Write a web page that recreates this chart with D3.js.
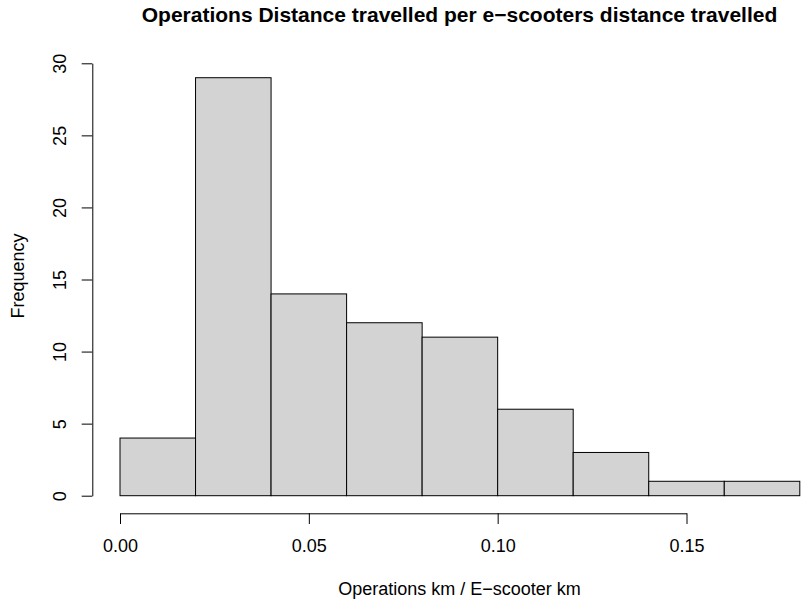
<!DOCTYPE html>
<html>
<head>
<meta charset="utf-8">
<script src="https://cdn.jsdelivr.net/npm/d3@7"></script>
<style>
  html, body { margin: 0; padding: 0; background: #fff; }
  svg { display: block; }
  text { font-family: "Liberation Sans", Arial, Helvetica, sans-serif; fill: #000; }
</style>
</head>
<body>
<svg id="chart" width="801" height="603"></svg>
<script>
// Histogram bins (lower edge, upper edge) and counts
const binStarts = [0.00, 0.02, 0.04, 0.06, 0.08, 0.10, 0.12, 0.14, 0.16];
const binEnds   = [0.02, 0.04, 0.06, 0.08, 0.10, 0.12, 0.14, 0.16, 0.18];
const counts    = [4, 29, 14, 12, 11, 6, 3, 1, 1];
const xTicks    = [0.00, 0.05, 0.10, 0.15];
const yTicks    = [0, 5, 10, 15, 20, 25, 30];
const titleText = "Operations Distance travelled per e\u2212scooters distance travelled";
const xLabel    = "Operations km / E\u2212scooter km";
const yLabel    = "Frequency";

const svg = d3.select("#chart");

const x = d3.scaleLinear().domain([0, 0.15]).range([120, 686.5]);
const y = d3.scaleLinear().domain([0, 30]).range([495.7, 63.3]);

const bins = counts.map((c, i) => ({ x0: binStarts[i], x1: binEnds[i], n: c }));

// bars
svg.append("g")
  .selectAll("rect")
  .data(bins)
  .join("rect")
  .attr("x", d => x(d.x0))
  .attr("y", d => y(d.n))
  .attr("width", d => x(d.x1) - x(d.x0))
  .attr("height", d => y(0) - y(d.n))
  .attr("fill", "#d3d3d3")
  .attr("stroke", "#000")
  .attr("stroke-width", 1);

// x axis
const xAxisY = 513.3;
const xAxis = d3.axisBottom(x)
  .tickValues(xTicks)
  .tickFormat(d3.format(".2f"))
  .tickSize(10.7)
  .tickSizeOuter(0)
  .tickPadding(15.3);
const gx = svg.append("g").attr("transform", `translate(0,${xAxisY})`).call(xAxis);
gx.selectAll("text").attr("font-size", 18).style("font-family", "Liberation Sans, Arial, sans-serif");
gx.selectAll("path, line").attr("stroke", "#000").attr("stroke-width", 1);

// y axis
const yAxisX = 92.3;
const yAxis = d3.axisLeft(y)
  .tickValues(yTicks)
  .tickFormat(d3.format("d"))
  .tickSize(10.6)
  .tickSizeOuter(0);
const gy = svg.append("g").attr("transform", `translate(${yAxisX},0)`).call(yAxis);
gy.selectAll("path, line").attr("stroke", "#000").attr("stroke-width", 1);
gy.selectAll("text")
  .attr("font-size", 18)
  .style("font-family", "Liberation Sans, Arial, sans-serif")
  .attr("x", null).attr("dy", null)
  .attr("text-anchor", "middle")
  .attr("transform", `translate(${66 - yAxisX},0) rotate(-90)`)
  .attr("y", 0);

// title
svg.append("text")
  .attr("x", 459.5)
  .attr("y", 22)
  .attr("text-anchor", "middle")
  .attr("font-size", 21)
  .attr("font-weight", "bold")
  .text(titleText);

// x label
svg.append("text")
  .attr("x", 459.5)
  .attr("y", 595)
  .attr("text-anchor", "middle")
  .attr("font-size", 18)
  .text(xLabel);

// y label
svg.append("text")
  .attr("transform", `translate(23.5,276) rotate(-90)`)
  .attr("text-anchor", "middle")
  .attr("font-size", 18)
  .text(yLabel);
</script>
</body>
</html>
